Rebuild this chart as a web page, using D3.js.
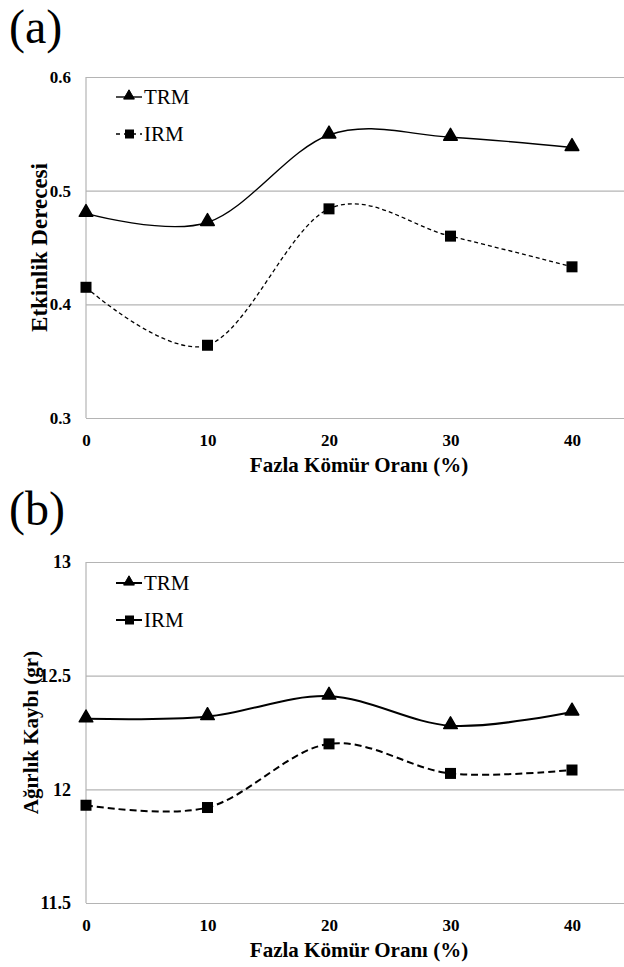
<!DOCTYPE html>
<html>
<head>
<meta charset="utf-8">
<script src="https://cdn.jsdelivr.net/npm/d3@7"></script>
<style>
  body { margin: 0; background: #fff; }
  svg text { font-family: "Liberation Serif", "Times New Roman", Times, "DejaVu Serif", serif; }
</style>
</head>
<body>
<div id="chart"></div>
<script>
// data
let xVals = [0, 10, 20, 30, 40];
let seriesNames = ["TRM", "IRM"];
let trmA = [0.480, 0.472, 0.549, 0.547, 0.538];
let irmA = [0.415, 0.364, 0.484, 0.460, 0.433];
let trmB = [12.31, 12.32, 12.41, 12.28, 12.34];
let irmB = [11.93, 11.92, 12.20, 12.07, 12.085];
let yTicksA = [0.3, 0.4, 0.5, 0.6];
let yTicksB = [11.5, 12, 12.5, 13];
let xTitle = "Fazla Kömür Oranı (%)";

let W = 624, H = 967;
let left = 86, right = 624, xEnd = 572;
let serif = "'Liberation Serif', 'Times New Roman', Times, 'DejaVu Serif', serif";

let svg = d3.select("#chart").append("svg")
    .attr("width", W)
    .attr("height", H);

let x = d3.scaleLinear()
    .domain([0, 40])
    .range([left, xEnd]);

let curve = d3.curveCardinal.tension(0);

function drawPanel(opt) {
    let y = d3.scaleLinear()
        .domain(opt.domain)
        .range([opt.bottom, opt.top]);

    let g = svg.append("g");

    // panel letter
    g.append("text")
        .attr("x", 9)
        .attr("y", opt.letterY)
        .style("font-family", serif)
        .style("font-size", "48px")
        .text(opt.letter);

    // gridlines + y labels
    let yAxis = g.append("g")
        .attr("transform", "translate(" + left + ",0)")
        .call(d3.axisLeft(y)
            .tickValues(opt.ticks)
            .tickFormat(opt.fmt)
            .tickSize(-(right - left))
            .tickPadding(15));
    yAxis.attr("font-family", null);
    yAxis.select(".domain").remove();
    yAxis.selectAll("line")
        .attr("stroke", "#b4b4b4")
        .attr("stroke-width", 1.2);
    yAxis.selectAll("text")
        .style("font-family", serif)
        .style("font-size", opt.yTickSize)
        .style("font-weight", "bold")
        .attr("fill", "#000");

    // left axis line
    g.append("line")
        .attr("x1", left).attr("x2", left)
        .attr("y1", opt.top).attr("y2", opt.bottom)
        .attr("stroke", "#b4b4b4")
        .attr("stroke-width", 1.2);

    // x labels
    let xAxis = g.append("g")
        .attr("transform", "translate(0," + opt.bottom + ")")
        .call(d3.axisBottom(x).tickValues(xVals).tickSize(0).tickPadding(16));
    xAxis.attr("font-family", null);
    xAxis.select(".domain").remove();
    xAxis.selectAll("text")
        .style("font-family", serif)
        .style("font-size", "17px")
        .style("font-weight", "bold")
        .attr("fill", "#000");

    // x title
    g.append("text")
        .attr("x", (left + right) / 2 + 4)
        .attr("y", opt.bottom + 54)
        .attr("text-anchor", "middle")
        .style("font-family", serif)
        .style("font-size", "21px")
        .style("font-weight", "bold")
        .text(xTitle);

    // y title
    g.append("text")
        .attr("transform", "translate(" + opt.yTitleX + "," + ((opt.top + opt.bottom) / 2) + ") rotate(-90)")
        .attr("text-anchor", "middle")
        .attr("dy", "0.35em")
        .style("font-family", serif)
        .style("font-size", opt.yTitleSize)
        .style("font-weight", "bold")
        .text(opt.yTitle);

    let line = d3.line()
        .x(function(d, i) { return x(xVals[i]); })
        .y(function(d) { return y(d); })
        .curve(curve);

    // IRM line
    g.append("path")
        .datum(opt.irm)
        .attr("d", line)
        .attr("fill", "none")
        .attr("stroke", "#000")
        .attr("stroke-width", opt.dashW)
        .attr("stroke-dasharray", opt.dash);

    // TRM line
    g.append("path")
        .datum(opt.trm)
        .attr("d", line)
        .attr("fill", "none")
        .attr("stroke", "#000")
        .attr("stroke-width", opt.solidW);

    // markers
    g.selectAll(".tri")
        .data(opt.trm)
        .enter()
        .append("path")
        .attr("class", "tri")
        .attr("transform", function(d, i) { return "translate(" + x(xVals[i]) + "," + (y(d) - 1) + ")"; })
        .attr("d", d3.symbol().type(d3.symbolTriangle).size(80))
        .attr("fill", "#000")
        .attr("stroke", "#000")
        .attr("stroke-width", 1.5)
        .attr("stroke-linejoin", "round");

    g.selectAll(".sq")
        .data(opt.irm)
        .enter()
        .append("rect")
        .attr("class", "sq")
        .attr("x", function(d, i) { return x(xVals[i]) - 5.5; })
        .attr("y", function(d) { return y(d) - 5.5; })
        .attr("width", 11)
        .attr("height", 11)
        .attr("fill", "#000");

    // legend
    let lg = g.append("g");
    seriesNames.forEach(function(name, i) {
        let ly = opt.legendY[i];
        lg.append("line")
            .attr("x1", 116).attr("x2", 142)
            .attr("y1", ly).attr("y2", ly)
            .attr("stroke", "#000")
            .attr("stroke-width", i === 0 ? opt.solidW : opt.dashW)
            .attr("stroke-dasharray", i === 0 ? null : opt.legendDash);
        if (i === 0) {
            lg.append("path")
                .attr("transform", "translate(129," + (ly - 1) + ")")
                .attr("d", d3.symbol().type(d3.symbolTriangle).size(50))
                .attr("fill", "#000")
                .attr("stroke", "#000")
                .attr("stroke-linejoin", "round");
        } else {
            lg.append("rect")
                .attr("x", 125).attr("y", ly - 4.5)
                .attr("width", 9).attr("height", 9)
                .attr("fill", "#000");
        }
        lg.append("text")
            .attr("x", 144)
            .attr("y", ly)
            .attr("dy", "0.35em")
            .style("font-family", serif)
            .style("font-size", "21px")
            .text(name);
    });
}

drawPanel({
    letter: "(a)", letterY: 43,
    domain: [0.3, 0.6], ticks: yTicksA, fmt: d3.format(".1f"), yTickSize: "17px",
    top: 77, bottom: 418,
    trm: trmA, irm: irmA,
    solidW: 1.4, dashW: 1.3, dash: "4,3", legendDash: "4,4",
    legendY: [97, 134],
    yTitle: "Etkinlik Derecesi", yTitleX: 39, yTitleSize: "23px"
});

drawPanel({
    letter: "(b)", letterY: 525,
    domain: [11.5, 13], ticks: yTicksB, fmt: function(d) { return d; }, yTickSize: "18px",
    top: 562, bottom: 903,
    trm: trmB, irm: irmB,
    solidW: 2, dashW: 2, dash: "7,4", legendDash: "9,8",
    legendY: [583, 620],
    yTitle: "Ağırlık Kaybı (gr)", yTitleX: 31, yTitleSize: "21px"
});
</script>
</body>
</html>
